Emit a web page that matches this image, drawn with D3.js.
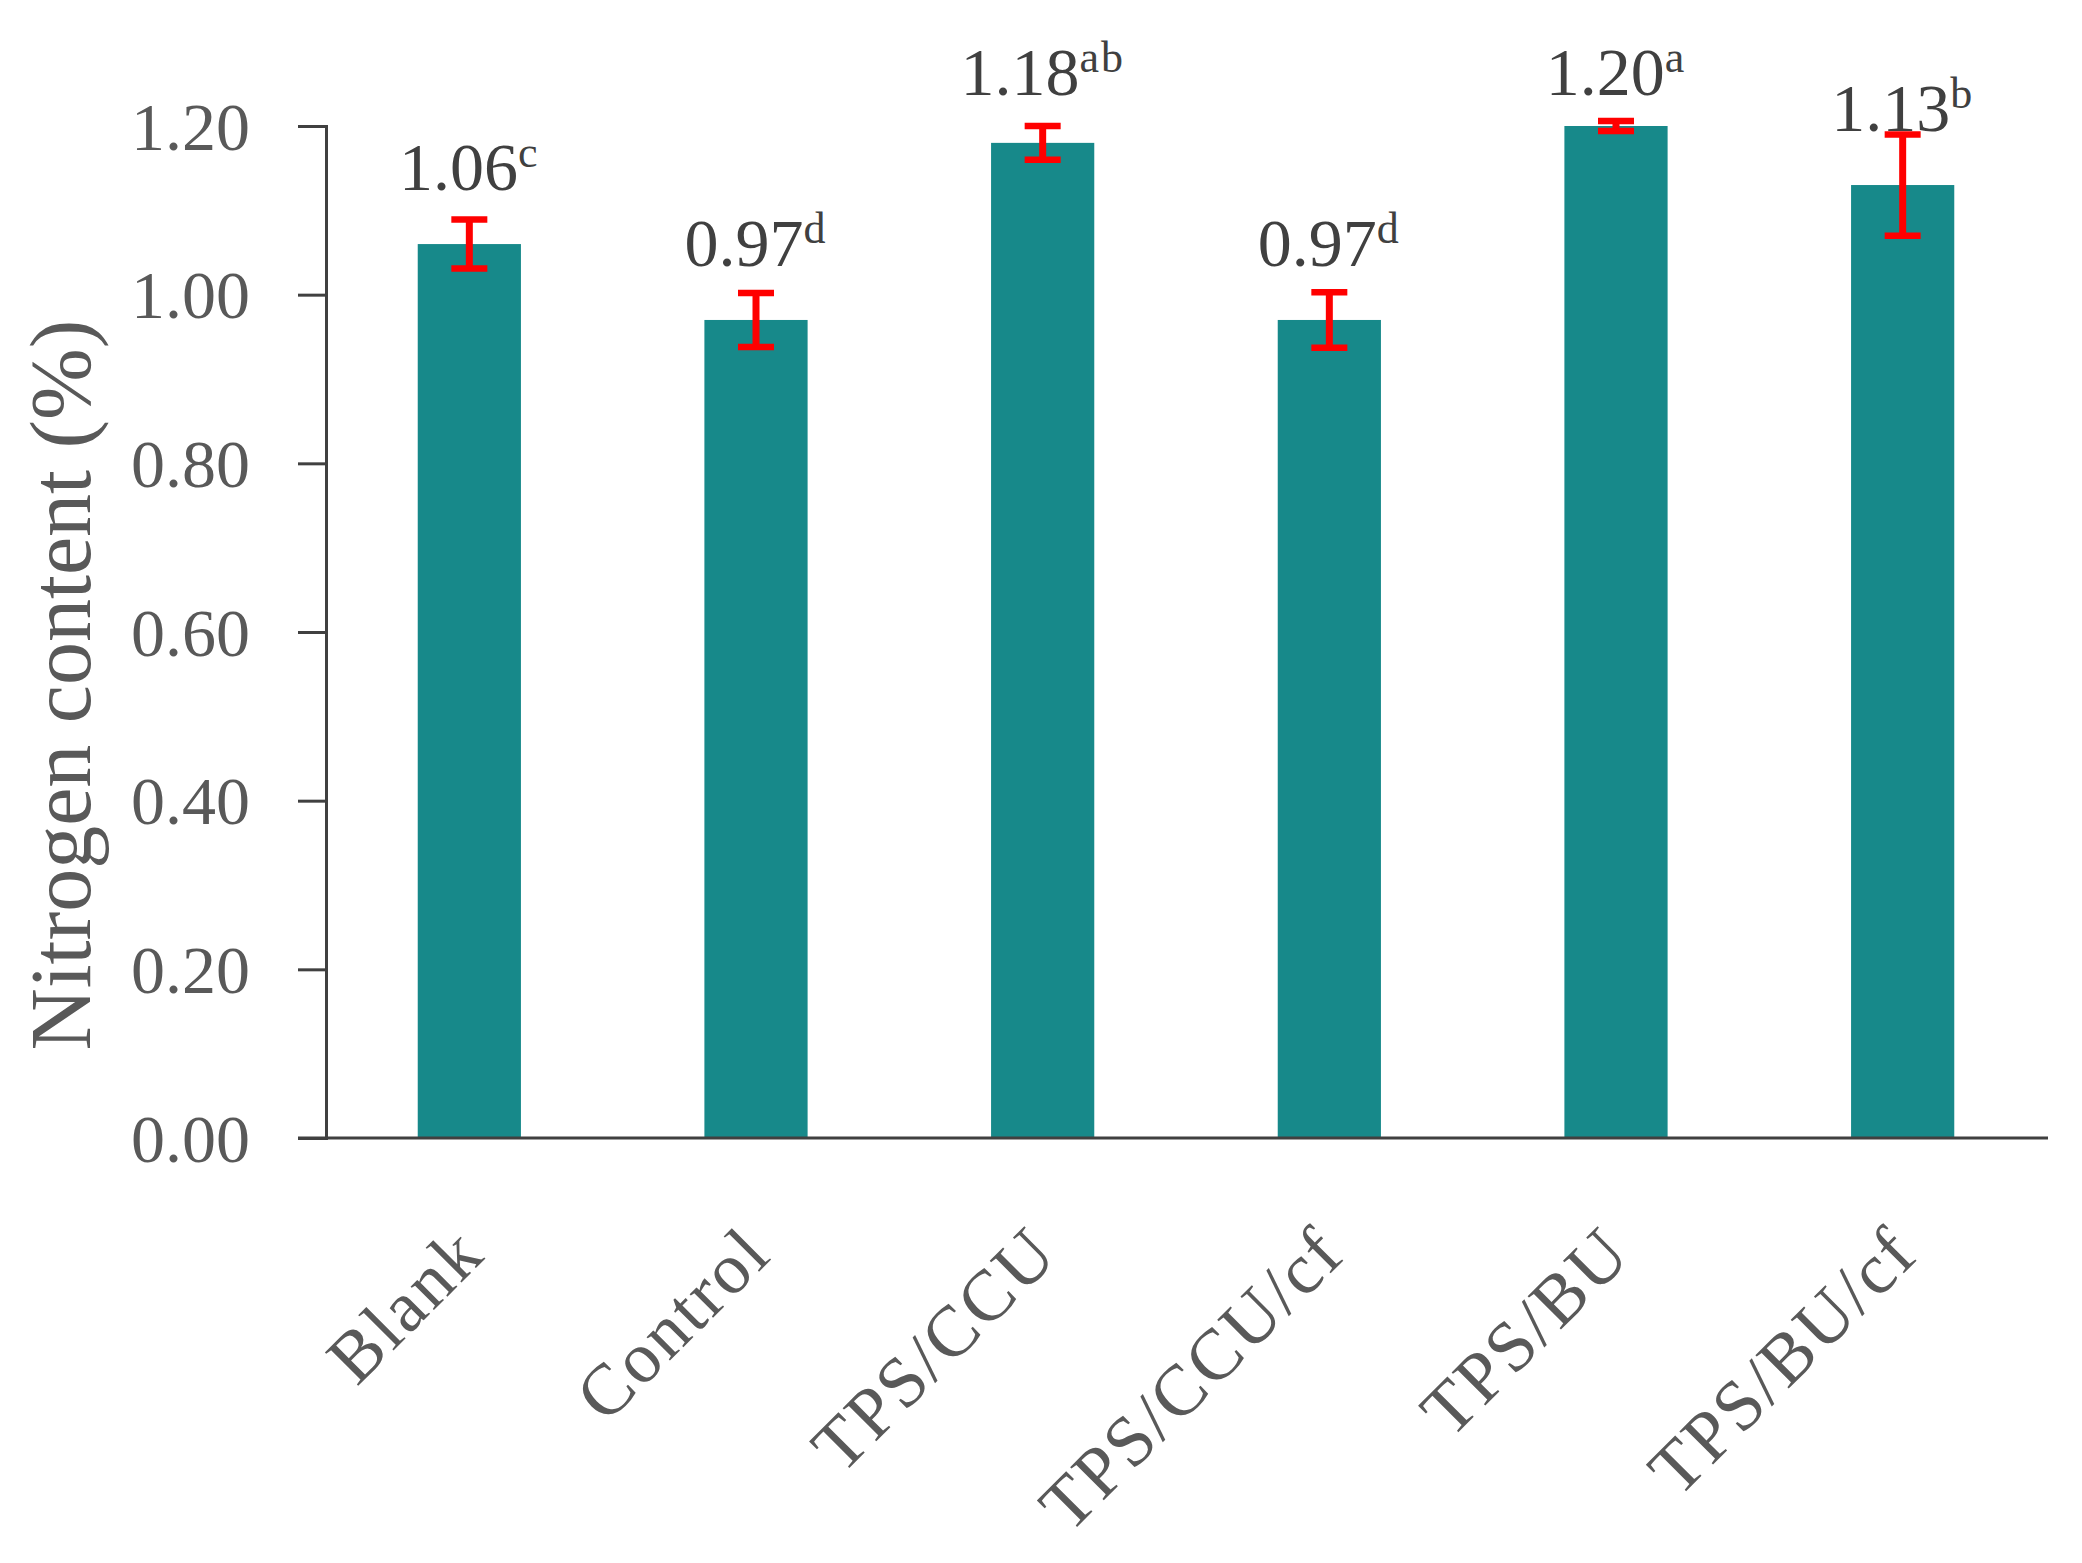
<!DOCTYPE html>
<html lang="en">
<head>
<meta charset="UTF-8">
<title>Nitrogen content</title>
<script src="https://d3js.org/d3.v7.min.js"></script>
<style>
  body { margin: 0; background: #fff; }
  text { font-family: "Liberation Serif", "DejaVu Serif", serif; }
</style>
</head>
<body>
<div id="chart"></div>
<script>
// -- data --
const categories = ["Blank", "Control", "TPS/CCU", "TPS/CCU/cf", "TPS/BU", "TPS/BU/cf"];
const values     = [1.06, 0.97, 1.18, 0.97, 1.20, 1.13];
const errors     = [0.029, 0.032, 0.02, 0.033, 0.006, 0.06];
const letters    = ["c", "d", "ab", "d", "a", "b"];
const yTicks     = [0, 0.2, 0.4, 0.6, 0.8, 1.0, 1.2];
const yTitle     = "Nitrogen content (%)";

// -- size and layout --
const width = 2082, height = 1563;
const plotLeft = 326, plotRight = 2046, plotTop = 126, plotBottom = 1138;

const svg = d3.select("#chart").append("svg")
    .attr("width", width)
    .attr("height", height);

const x = d3.scaleBand()
    .domain(categories)
    .range([plotLeft, plotRight])
    .paddingInner(0.64)
    .paddingOuter(0.32);

const y = d3.scaleLinear()
    .domain([0, 1.2])
    .range([plotBottom, plotTop]);

// -- y axis --
const yAxis = svg.append("g")
    .attr("transform", `translate(${plotLeft},0)`)
    .call(d3.axisLeft(y).tickValues(yTicks).tickSize(28).tickPadding(48)
        .tickFormat(d3.format(".2f")));
yAxis.select(".domain").attr("stroke", "#404040").attr("stroke-width", 3);
yAxis.selectAll(".tick line").attr("stroke", "#404040").attr("stroke-width", 3);
yAxis.selectAll(".tick text")
    .attr("fill", "#595959")
    .attr("font-size", 68)
    .attr("dy", "0.34em");

// -- bars --
svg.append("g").selectAll("rect")
    .data(categories)
    .enter()
    .append("rect")
    .attr("x", d => x(d))
    .attr("width", x.bandwidth())
    .attr("y", (d, i) => y(values[i]))
    .attr("height", (d, i) => y(0) - y(values[i]))
    .attr("fill", "#17898a");

// -- x axis line (drawn over the bars) --
svg.append("line")
    .attr("x1", plotLeft - 28).attr("x2", plotRight + 2)
    .attr("y1", y(0)).attr("y2", y(0))
    .attr("stroke", "#404040")
    .attr("stroke-width", 3);

// -- error bars --
const eb = svg.append("g")
    .attr("stroke", "#ff0000")
    .attr("fill", "none");
const cap = 18;
categories.forEach(function(c, i) {
    const cx = x(c) + x.bandwidth() / 2;
    const hi = y(values[i] + errors[i]), lo = y(values[i] - errors[i]);
    eb.append("line").attr("x1", cx).attr("x2", cx).attr("y1", hi).attr("y2", lo)
        .attr("stroke-width", 7);
    eb.append("line").attr("x1", cx - cap).attr("x2", cx + cap).attr("y1", hi).attr("y2", hi)
        .attr("stroke-width", 6.5);
    eb.append("line").attr("x1", cx - cap).attr("x2", cx + cap).attr("y1", lo).attr("y2", lo)
        .attr("stroke-width", 6.5);
});

// -- value labels with significance letters --
const labels = svg.append("g").selectAll("text")
    .data(categories)
    .enter()
    .append("text")
    .attr("x", d => x(d) + x.bandwidth() / 2)
    .attr("y", (d, i) => Math.max(y(values[i]) - 54, 95))
    .attr("text-anchor", "middle")
    .attr("fill", "#404040")
    .attr("font-size", 68);
labels.append("tspan").text((d, i) => values[i].toFixed(2));
labels.append("tspan")
    .attr("dy", -23)
    .attr("font-size", 44)
    .attr("letter-spacing", 2)
    .text((d, i) => letters[i]);

// -- category labels, rotated --
svg.append("g").selectAll("text")
    .data(categories)
    .enter()
    .append("text")
    .attr("transform", d => `translate(${x(d) + x.bandwidth() / 2},${y(0) + 101}) rotate(-45)`)
    .attr("text-anchor", "end")
    .attr("dy", "0.35em")
    .attr("fill", "#595959")
    .attr("font-size", 72)
    .attr("letter-spacing", 2.5)
    .text(d => d);

// -- y title --
svg.append("text")
    .attr("transform", "translate(90,685) rotate(-90)")
    .attr("text-anchor", "middle")
    .attr("fill", "#595959")
    .attr("font-size", 86)
    .text(yTitle);
</script>
</body>
</html>
